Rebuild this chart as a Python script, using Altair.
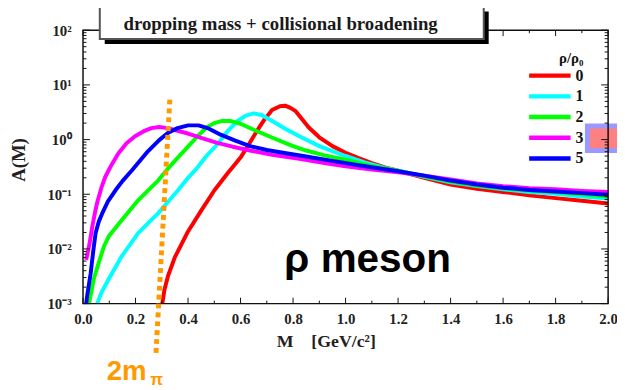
import altair as alt
import pandas as pd

# ---- data (M in GeV/c^2, A(M)) ----
densities = ["0", "1", "2", "3", "5"]
colors = ["#FF0000", "#00FFFF", "#00FF00", "#FF00FF", "#0000FF"]

m0 = [0.302, 0.31, 0.324, 0.35, 0.40, 0.45, 0.50, 0.55, 0.60, 0.63, 0.66, 0.69, 0.72, 0.75, 0.77, 0.79, 0.81,
      0.83, 0.86, 0.90, 0.95, 1.00, 1.05, 1.10, 1.15, 1.20, 1.30, 1.40, 1.50, 1.60, 1.70, 1.80, 1.90, 2.00]
a0 = [1.0e-3, 1.78e-3, 3.24e-3, 7.08e-3, 0.0209, 0.0501, 0.117, 0.240, 0.468, 0.794, 1.38, 2.29, 3.47, 4.07,
      4.17, 3.80, 3.31, 2.51, 1.66, 1.10, 0.759, 0.575, 0.457, 0.372, 0.309, 0.269, 0.200, 0.151, 0.126, 0.110,
      0.0955, 0.0851, 0.0759, 0.0676]

m1 = [0.054, 0.07, 0.098, 0.148, 0.21, 0.25, 0.286, 0.32, 0.361, 0.40, 0.436, 0.47, 0.511, 0.55, 0.586, 0.62,
      0.65, 0.68, 0.724, 0.77, 0.824, 0.90, 0.95, 1.00, 1.075, 1.15, 1.20, 1.30, 1.40, 1.50, 1.60, 1.70, 1.80,
      1.90, 2.00]
a1 = [1.0e-3, 1.58e-3, 2.82e-3, 7.41e-3, 0.0195, 0.0302, 0.0447, 0.0692, 0.117, 0.200, 0.309, 0.501, 0.813,
      1.41, 2.14, 2.75, 3.02, 2.82, 2.14, 1.58, 1.15, 0.759, 0.617, 0.501, 0.380, 0.302, 0.269, 0.209, 0.166,
      0.141, 0.123, 0.110, 0.102, 0.0912, 0.0832]

m2 = [0.023, 0.041, 0.06, 0.08, 0.098, 0.148, 0.21, 0.25, 0.286, 0.32, 0.361, 0.40, 0.436, 0.47, 0.50, 0.53,
      0.56, 0.60, 0.65, 0.724, 0.80, 0.85, 0.92, 1.00, 1.10, 1.20, 1.30, 1.40, 1.50, 1.60, 1.70, 1.80, 1.90, 2.00]
a2 = [1.0e-3, 2.82e-3, 5.62e-3, 0.0112, 0.0170, 0.0339, 0.0776, 0.120, 0.178, 0.282, 0.468, 0.741, 1.15, 1.66,
      2.00, 2.19, 2.19, 1.95, 1.51, 1.07, 0.759, 0.631, 0.513, 0.427, 0.331, 0.269, 0.214, 0.170, 0.145, 0.129,
      0.117, 0.110, 0.100, 0.0912]

m3 = [0.012, 0.025, 0.035, 0.045, 0.054, 0.07, 0.085, 0.11, 0.135, 0.165, 0.198, 0.23, 0.26, 0.29, 0.323,
      0.36, 0.40, 0.45, 0.511, 0.57, 0.636, 0.72, 0.824, 0.92, 1.00, 1.10, 1.20, 1.30, 1.40, 1.50, 1.60, 1.70,
      1.80, 1.90, 2.00]
a3 = [6.31e-3, 0.0126, 0.0251, 0.0447, 0.0708, 0.132, 0.209, 0.355, 0.562, 0.851, 1.15, 1.41, 1.62, 1.70,
      1.62, 1.45, 1.29, 1.07, 0.871, 0.741, 0.631, 0.525, 0.447, 0.372, 0.324, 0.282, 0.251, 0.219, 0.186,
      0.158, 0.141, 0.129, 0.123, 0.115, 0.110]

m5 = [0.012, 0.016, 0.029, 0.04, 0.048, 0.06, 0.073, 0.095, 0.123, 0.15, 0.185, 0.22, 0.248, 0.29, 0.323,
      0.36, 0.40, 0.44, 0.48, 0.524, 0.58, 0.636, 0.70, 0.762, 0.85, 0.95, 1.05, 1.20, 1.30, 1.40, 1.50, 1.60,
      1.70, 1.80, 1.90, 2.00]
a5 = [1.0e-3, 1.41e-3, 3.55e-3, 0.0100, 0.0195, 0.0316, 0.0447, 0.0741, 0.117, 0.174, 0.269, 0.427, 0.617,
      0.977, 1.32, 1.62, 1.82, 1.82, 1.58, 1.23, 0.955, 0.759, 0.646, 0.575, 0.490, 0.407, 0.339, 0.263,
      0.219, 0.178, 0.151, 0.132, 0.120, 0.112, 0.105, 0.0977]

x_labels = [0.0, 0.2, 0.4, 0.6, 0.8, 1.0, 1.2, 1.4, 1.6, 1.8, 2.0]
x_minor = [0.1, 0.3, 0.5, 0.7, 0.9, 1.1, 1.3, 1.5, 1.7, 1.9]
y_decades = [1e-3, 1e-2, 1e-1, 1e0, 1e1, 1e2]
y_minor = [k * d for d in y_decades[:-1] for k in range(2, 10)]

# 2 m_pi threshold marker (drawn slightly slanted as in the original)
pion_M = [0.278, 0.331]
pion_A = [1.26e-4, 5.9]

title_text = "dropping mass + collisional broadening"

W, H = 532, 277
SERIF = "Liberation Serif"
SANS = "Liberation Sans"

rows = []
for d, ms, avals in zip(densities, [m0, m1, m2, m3, m5], [a0, a1, a2, a3, a5]):
    for i, (m, a) in enumerate(zip(ms, avals)):
        rows.append({"M": m, "A": a, "rho": d, "i": i})
df = pd.DataFrame(rows)

xscale = alt.Scale(domain=[0, 2], nice=False, zero=False)
yscale = alt.Scale(type="log", domain=[1e-3, 1e2], nice=False)

x_axis = alt.Axis(
    values=x_labels, format=".1f", ticks=False, domain=False, grid=False,
    labelFont=SERIF, labelFontWeight="bold", labelFontSize=15, labelColor="#222",
    labelPadding=8, labelFlush=False, labelOverlap=False,
    title="M\u00a0\u00a0\u00a0\u00a0[GeV/c\u00b2]", titleFont=SERIF, titleFontWeight="bold",
    titleFontSize=18, titleColor="#222", titleX=246, titleY=43, titleBaseline="alphabetic",
    titleAlign="center")
y_axis = alt.Axis(
    values=y_decades, ticks=False, domain=False, grid=False,
    labelExpr="'10' + ['\u207b\u00b3','\u207b\u00b2','\u207b\u00b9','\u2070','\u00b9','\u00b2'][round(log(datum.value)/LN10)+3]",
    labelFont=SERIF, labelFontWeight="bold", labelFontSize=15, labelColor="#222",
    labelPadding=12, labelFlush=False, labelOverlap=False,
    title="A(M)", titleFont=SERIF, titleFontWeight="bold", titleFontSize=19, titleColor="#222",
    titleX=-55, titleY=131, titleAngle=270, titleBaseline="bottom", titleAlign="center")

one = pd.DataFrame({"k": [0]})

curves = alt.Chart(df).mark_line(strokeWidth=4, clip=True, strokeJoin="round").encode(
    x=alt.X("M:Q", scale=xscale, axis=x_axis),
    y=alt.Y("A:Q", scale=yscale, axis=y_axis),
    color=alt.Color("rho:N", scale=alt.Scale(domain=densities, range=colors), legend=alt.Legend(
        title="\u03c1/\u03c1\u2080", orient="none", legendX=481, legendY=21, padding=0,
        symbolType="M-7.4,0H1", symbolSize=100, symbolStrokeWidth=4.5,
        labelFont=SERIF, labelFontWeight="bold", labelFontSize=16, labelColor="#111", labelOffset=2,
        rowPadding=3, titleFont=SERIF, titleFontWeight="bold", titleFontSize=15, titleColor="#111",
        titleAnchor="end", titlePadding=2)),
    order="i:Q",
)

# pink marker at right edge
pink = alt.Chart(one).mark_rect(fill="#FF8080", stroke="#9999FF", strokeWidth=5, clip=False).encode(
    x=alt.value(511), x2=alt.value(560), y=alt.value(97), y2=alt.value(122))

frame = alt.Chart(one).mark_rect(fill="transparent", stroke="#111", strokeWidth=1.5).encode(
    x=alt.value(0), x2=alt.value(W), y=alt.value(0), y2=alt.value(H))

def xticks(vals, length):
    d = pd.DataFrame({"M": vals})
    b = alt.Chart(d).mark_rule(color="#111", strokeWidth=1).encode(
        x=alt.X("M:Q", scale=xscale, axis=x_axis), y=alt.value(H), y2=alt.value(H - length))
    t = alt.Chart(d).mark_rule(color="#111", strokeWidth=1).encode(
        x=alt.X("M:Q", scale=xscale, axis=x_axis), y=alt.value(0), y2=alt.value(length))
    return [b, t]

def yticks(vals, length):
    d = pd.DataFrame({"A": vals})
    l = alt.Chart(d).mark_rule(color="#111", strokeWidth=1).encode(
        y=alt.Y("A:Q", scale=yscale, axis=y_axis), x=alt.value(0), x2=alt.value(length))
    r = alt.Chart(d).mark_rule(color="#111", strokeWidth=1).encode(
        y=alt.Y("A:Q", scale=yscale, axis=y_axis), x=alt.value(W), x2=alt.value(W - length))
    return [l, r]

ticks = xticks(x_labels, 6) + xticks(x_minor, 3) + yticks(y_decades, 7) + yticks(y_minor, 3.5)

shadow = alt.Chart(one).mark_rect(fill="#000").encode(
    x=alt.value(22), x2=alt.value(411), y=alt.value(-19), y2=alt.value(14))
box = alt.Chart(one).mark_rect(fill="white", stroke="#555", strokeWidth=2).encode(
    x=alt.value(17), x2=alt.value(406), y=alt.value(-24), y2=alt.value(9))
box_text = alt.Chart(one).mark_text(text=title_text, font=SERIF, fontWeight="bold", fontSize=19,
                                    color="#1a1a1a", align="left", baseline="alphabetic").encode(
    x=alt.value(41), y=alt.value(0))

pdf = pd.DataFrame({"M": [pion_M[0]], "M2": [pion_M[1]], "A": [pion_A[0]], "A2": [pion_A[1]]})
pion = alt.Chart(pdf).mark_rule(clip=False, color="#FF9900", strokeWidth=5, strokeDash=[5, 4],
                                strokeCap="butt").encode(
    x=alt.X("M:Q", scale=xscale, axis=x_axis), x2="M2:Q",
    y=alt.Y("A:Q", scale=yscale, axis=y_axis), y2="A2:Q")

pion_text = alt.Chart(one).mark_text(text="2m", font=SANS, fontWeight="bold", fontSize=28, color="#FF9900",
                                     align="left", baseline="alphabetic").encode(x=alt.value(24), y=alt.value(354))
pion_sub = alt.Chart(one).mark_text(text="\u03c0", font=SANS, fontWeight="bold", fontSize=17, color="#FF9900",
                                    align="left", baseline="alphabetic").encode(x=alt.value(68), y=alt.value(359))

meson = alt.Chart(one).mark_text(text="\u03c1 meson", font=SANS, fontWeight="bold", fontSize=41, color="#000",
                                 align="left", baseline="alphabetic").encode(x=alt.value(204), y=alt.value(245))

chart = alt.layer(
    curves, pink, frame, *ticks, shadow, box, box_text, pion, pion_text, pion_sub, meson
).properties(
    width=W, height=H,
    autosize=alt.AutoSizeParams(type="none"),
    padding={"left": 76, "top": 20, "right": 9, "bottom": 85},
).configure_view(stroke=None)

chart.save("out.html", embed_options={"renderer": "svg", "actions": False})
